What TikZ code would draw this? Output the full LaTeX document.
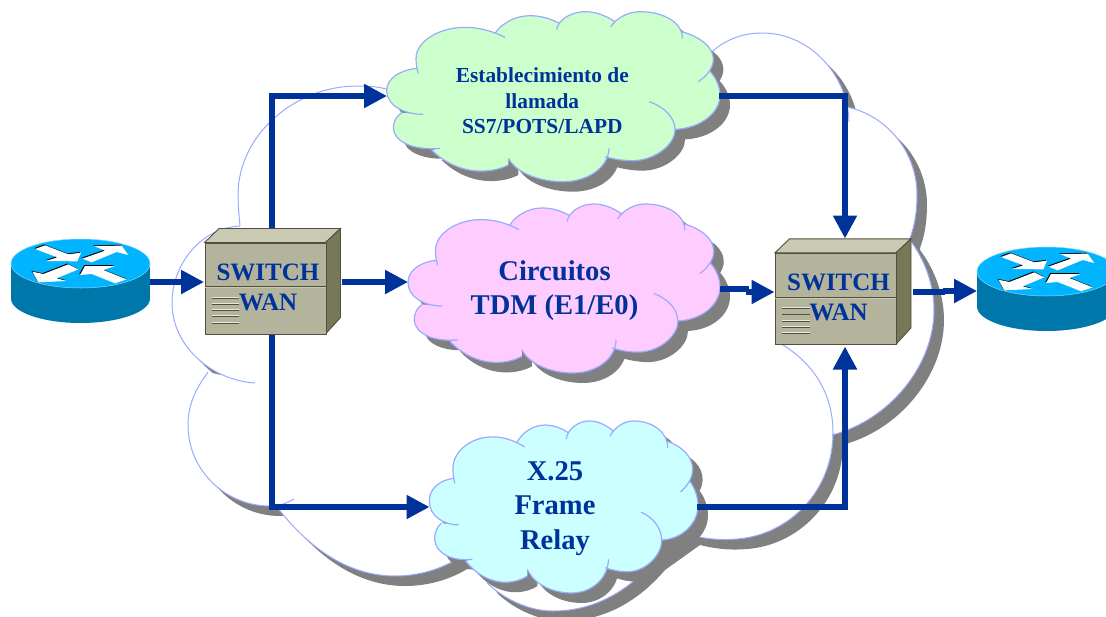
\documentclass[tikz,border=0pt]{standalone}
\usepackage{fontspec}
\setmainfont{Liberation Serif}
\usetikzlibrary{arrows.meta}
\definecolor{navy}{HTML}{003399}
\definecolor{lobecol}{HTML}{99AAFF}
\definecolor{shadowgrey}{HTML}{808080}
\definecolor{cgreen}{HTML}{CCFFCC}
\definecolor{cpink}{HTML}{FFCCFF}
\definecolor{ccyan}{HTML}{CCFFFF}
\definecolor{swfront}{HTML}{B4B49C}
\definecolor{swtop}{HTML}{CACAB4}
\definecolor{swside}{HTML}{787858}
\definecolor{swedge}{HTML}{505040}
\definecolor{rtop}{HTML}{00B4FF}
\definecolor{rside}{HTML}{0077AA}
\tikzset{
  lobeline/.style={draw=lobecol,line width=1pt},
  conn/.style={draw=navy,line width=5.2pt,miter limit=10},
  connarrow/.style={conn,-{Triangle[length=23pt,width=23pt]}},
  cloudtext/.style={text=navy,font=\bfseries,align=center,inner sep=0pt},
}
% big cloud: each lobe runs past its cusp as in the picture
\def\biglobes#1{
  (240,226) .. controls (200,228) and (172,265) .. (172,303) .. controls (172,345) and (210,380) .. (255,383)
  #1 (208,372) .. controls (195,390) and (188,405) .. (188,425) .. controls (188,470) and (225,506) .. (270,506) .. controls (280,506) and (287,503) .. (294,499)
  #1 (277,507) .. controls (310,550) and (350,576) .. (395,576) .. controls (425,576) and (455,565) .. (475,545)
  #1 (487,583) .. controls (505,600) and (530,611) .. (553,611) .. controls (590,611) and (625,595) .. (655,560)
  #1 (690,535) .. controls (710,540) and (725,540) .. (737,539) .. controls (790,535) and (833,490) .. (833,433) .. controls (833,395) and (815,365) .. (783,345)
  #1 (832,435) .. controls (890,420) and (934,365) .. (934,310) .. controls (934,285) and (925,260) .. (910,240)
  #1 (910,238) .. controls (915,225) and (917,210) .. (917,195) .. controls (917,150) and (885,115) .. (847,107)
  #1 (849,122) .. controls (848,75) and (810,33) .. (762,33) .. controls (740,33) and (722,42) .. (712,52) -- (690,80)
  #1 (400,95) .. controls (390,88) and (375,86) .. (357,86) .. controls (295,86) and (238,135) .. (238,195) .. controls (238,205) and (239,215) .. (240,226)
}
% small cloud, in a 1000 x 510 frame starting at (50,35)
\def\smalllobes#1{
  (140,205) .. controls (90,210) and (50,235) .. (50,272) .. controls (50,315) and (100,343) .. (160,343)
  #1 (95,338) .. controls (78,350) and (70,365) .. (70,385) .. controls (72,425) and (130,452) .. (210,445)
  #1 (185,450) .. controls (225,490) and (280,515) .. (340,513) .. controls (370,512) and (395,505) .. (415,495)
  #1 (415,475) .. controls (440,520) and (510,545) .. (580,545) .. controls (650,545) and (715,505) .. (717,445)
  #1 (705,470) .. controls (740,480) and (770,482) .. (790,482) .. controls (860,480) and (915,430) .. (915,390) .. controls (915,350) and (880,320) .. (838,305)
  #1 (915,388) .. controls (990,385) and (1050,340) .. (1050,285) .. controls (1050,260) and (1038,232) .. (1018,212)
  #1 (985,245) .. controls (1015,225) and (1030,200) .. (1030,178) .. controls (1030,140) and (990,110) .. (935,95)
  #1 (937,115) .. controls (940,75) and (890,35) .. (810,35) .. controls (775,35) and (742,52) .. (722,80)
  #1 (735,65) .. controls (705,45) and (675,35) .. (645,35) .. controls (605,35) and (565,58) .. (560,88)
  #1 (568,70) .. controls (540,55) and (510,47) .. (480,47) .. controls (435,47) and (395,70) .. (375,100)
  #1 (405,112) .. controls (365,92) and (325,82) .. (285,82) .. controls (205,82) and (138,125) .. (138,175) .. controls (138,190) and (140,205) .. (145,220)
}
\newcommand{\smallcloud}[5]{% x y w h colour
  \begin{scope}[shift={(#1+10,#2+10)},xscale={#3/1000},yscale={#4/510},shift={(-50,-35)}]
    \fill[shadowgrey] \smalllobes{--} -- cycle;
  \end{scope}
  \begin{scope}[shift={(#1,#2)},xscale={#3/1000},yscale={#4/510},shift={(-50,-35)}]
    \fill[#5] \smalllobes{--} -- cycle;
    \path[lobeline,line width=1.2pt] \smalllobes{};
  \end{scope}
}
\newcommand{\switchbox}[3]{% dx dy node-name
  \begin{scope}[shift={(#1,#2)}]
    \fill[swtop,draw=swedge,line width=.9pt] (204.5,242.5)--(219,228.5)--(340.5,228.5)--(325.5,242.5)--cycle;
    \fill[swside,draw=swedge,line width=.9pt] (325.5,242.5)--(340.5,228.5)--(340.5,317.5)--(325.5,334)--cycle;
    \node[fill=swfront,draw=swedge,line width=1pt,minimum width=121pt,minimum height=91.5pt,inner sep=0pt,anchor=north west] (#3) at (204.5,242.5) {};
    \draw[swedge,line width=1pt] (204.5,286.8)--(325.5,286.8);
    \draw[swtop,line width=.7pt] (204.5,287.8)--(325.5,287.8);
    \foreach \vy in {298.3,304.6,310.7,316.7,323.3}{
      \draw[swtop!40!white,line width=.7pt] (211.5,\vy-1)--(239,\vy-1);
      \draw[swedge,line width=.9pt] (211.5,\vy)--(239,\vy);
    }
    \node[cloudtext,font=\bfseries\fontsize{25}{30}\selectfont] (#3t) at (268,287.2) {SWITCH\\WAN};
  \end{scope}
}
\newcommand{\routericon}[2]{% dx dy
  \begin{scope}[shift={(#1,#2)}]
    \fill[rside] (80.5,298.5) ellipse [x radius=69.5,y radius=24.5];
    \fill[rside] (11,264) rectangle (150,298.5);
    \fill[rtop,draw=rtop!50!white,line width=.5pt] (80.5,263.5) ellipse [x radius=69.5,y radius=24.5];
    \begin{scope}[shift={(0,200)},scale=1/3]
      \foreach \col/\off in {black/-2.5,white/0}{
        \fill[\col,shift={(\off,\off)}] (105,147)--(135,136)--(205,163)--(243,158)--(232,184)--(138,183)--(172,172)--cycle;
        \fill[\col,shift={(\off,\off)}] (247,176)--(315,152)--(282,138)--(365,137)--(385,165)--(350,156)--(275,187)--cycle;
        \fill[\col,shift={(\off,\off)}] (205,193)--(235,208)--(170,235)--(200,243)--(115,247)--(97,215)--(130,222)--cycle;
        \fill[\col,shift={(\off,\off)}] (380,238)--(345,250)--(275,222)--(240,225)--(255,198)--(345,198)--(310,210)--cycle;
      }
    \end{scope}
  \end{scope}
}
\begin{document}
\begin{tikzpicture}[x=1pt,y=-1pt]
\useasboundingbox (0,0) rectangle (1106,616);
\fill[white] (0,0) rectangle (1106,616);
% big cloud
\begin{scope}[shift={(10,10)}]
  \fill[shadowgrey] \biglobes{--} -- cycle;
\end{scope}
\fill[white] \biglobes{--} -- cycle;
\path[lobeline] \biglobes{};
% small clouds
\smallcloud{386.7}{11.7}{333.3}{170}{cgreen}
\smallcloud{408}{204}{312}{169}{cpink}
\smallcloud{429.3}{421}{268.7}{172}{ccyan}
\node[cloudtext,font=\bfseries\fontsize{21.4}{25.5}\selectfont] (green) at (542.3,101) {Establecimiento de\\llamada\\SS7/POTS/LAPD};
\node[cloudtext,font=\bfseries\fontsize{28.6}{34}\selectfont] (pink) at (554.5,291) {Circuitos\\TDM (E1/E0)};
\node[cloudtext,font=\bfseries\fontsize{28.6}{34.5}\selectfont] (cyan) at (555,508.5) {X.25\\Frame\\Relay};
% connector ends
\coordinate (r1e) at (150,282);
\coordinate (s1w) at (204,282);
\coordinate (s1n) at (272,229);
\coordinate (s1e) at (342,282);
\coordinate (s1s) at (272,334);
\coordinate (gw) at (387,96);
\coordinate (ge) at (719,96);
\coordinate (pw) at (408,282);
\coordinate (pe) at (720,289);
\coordinate (cw) at (429.5,507);
\coordinate (ce) at (697,507);
\coordinate (s2n) at (845,238.5);
\coordinate (s2s) at (845,346.5);
\coordinate (s2w) at (774.5,292);
\coordinate (s2e) at (913,292);
\coordinate (r2w) at (977,291);
\coordinate (pstep) at (749,289);
\coordinate (pstepb) at (746,292);
\coordinate (estep) at (945,292);
\coordinate (estepb) at (943,291);
% connectors
\draw[connarrow] (r1e) -- (s1w);
\draw[connarrow] (s1n) |- (gw);
\draw[connarrow] (s1e) -- (pw);
\draw[connarrow] (s1s) |- (cw);
\draw[connarrow] (ge) -| (s2n);
\draw[connarrow] (ce) -| (s2s);
\draw[conn] (pe) -- (pstep);
\draw[connarrow] (pstepb) -- (s2w);
\draw[conn] (s2e) -- (estep);
\draw[connarrow] (estepb) -- (r2w);
% switches and routers
\switchbox{0}{0}{swa}
\switchbox{570.5}{10.3}{swb}
\routericon{0}{0}
\routericon{966}{8}
\end{tikzpicture}
\end{document}
